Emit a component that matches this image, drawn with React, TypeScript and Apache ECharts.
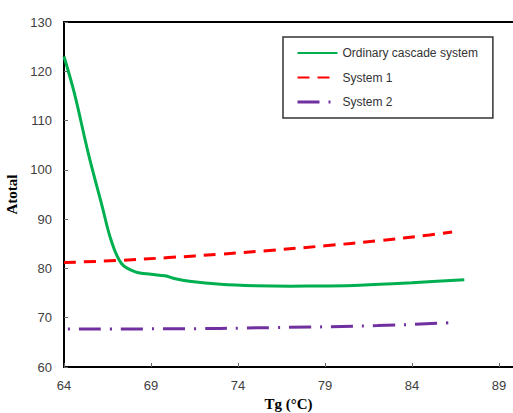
import React, { useEffect, useRef } from "react";
import * as echarts from "echarts";

const ordinaryX = [64, 64.6, 65.4, 66.2, 66.7, 67.3, 68.1, 69.0, 69.8, 70.4, 71.2, 73, 75, 77, 79, 81, 84, 87];
const ordinaryY = [123, 115.5, 103.3, 92.5, 85.8, 81.0, 79.3, 78.8, 78.5, 77.9, 77.4, 76.8, 76.5, 76.4, 76.45, 76.6, 77.1, 77.7];
const system1X = [64, 67, 70, 73, 76, 79, 82, 85, 86.3];
const system1Y = [81.2, 81.6, 82.2, 82.9, 83.7, 84.6, 85.6, 86.8, 87.4];
const system2X = [64, 70, 76, 82, 86.3];
const system2Y = [67.7, 67.75, 68.0, 68.4, 69.0];
const seriesNames = ["Ordinary cascade system", "System 1", "System 2"];

const pairs = (xs: number[], ys: number[]) => xs.map((x, i) => [x, ys[i]]);

export default function App() {
  const ref = useRef<HTMLDivElement>(null);
  useEffect(() => {
    if (!ref.current) return;
    const chart = echarts.init(ref.current, null, { renderer: "svg" });
    const labelStyle = { color: "#404040", fontSize: 13, fontFamily: "Liberation Sans" };
    const nameStyle = { color: "#000", fontSize: 15, fontWeight: "bold", fontFamily: "Liberation Serif" };
    chart.setOption({
      animation: false,
      backgroundColor: "#fff",
      grid: { left: 64, top: 22, right: 0, bottom: 46, outerBoundsMode: "none", containLabel: false },
      legend: {
        orient: "vertical",
        left: 283,
        top: 37,
        padding: [10, 15, 10, 13],
        itemWidth: 40,
        itemHeight: 14,
        itemGap: 12.5,
        borderColor: "#333",
        borderWidth: 1.5,
        itemStyle: { opacity: 0 },
        textStyle: { color: "#333", fontSize: 12, fontFamily: "Liberation Sans" },
        data: [
          { name: seriesNames[0] },
          { name: seriesNames[1] },
          { name: seriesNames[2], lineStyle: { color: "#7030a0", width: 3, type: [22, 9, 2, 9], dashOffset: 0 } },
        ],
      },
      xAxis: [
        {
          type: "value",
          min: 64,
          max: 89.8,
          interval: 5,
          position: "bottom",
          name: "Tg (°C)",
          nameLocation: "middle",
          nameGap: 29,
          nameTextStyle: nameStyle,
          axisLine: { show: true, lineStyle: { color: "#000", width: 2 } },
          axisTick: { show: true, inside: true, length: 4, lineStyle: { color: "#666" } },
          axisLabel: {
            ...labelStyle,
            margin: 12,
            formatter: (v: number) => (Number.isInteger(v) ? String(v) : ""),
          },
          splitLine: { show: false },
        },
        {
          type: "value",
          min: 64,
          max: 89.8,
          position: "top",
          axisLine: { show: true, lineStyle: { color: "#000", width: 2 } },
          axisTick: { show: false },
          axisLabel: { show: false },
          splitLine: { show: false },
        },
      ],
      yAxis: {
        type: "value",
        min: 60,
        max: 130,
        interval: 10,
        name: "Atotal",
        nameLocation: "middle",
        nameGap: 33,
        nameTextStyle: nameStyle,
        axisLine: { show: true, lineStyle: { color: "#000", width: 2 } },
        axisTick: { show: true, inside: true, length: 4, lineStyle: { color: "#666" } },
        axisLabel: { ...labelStyle, margin: 12 },
        splitLine: { show: false },
      },
      series: [
        {
          name: seriesNames[0],
          type: "line",
          data: pairs(ordinaryX, ordinaryY),
          smooth: 0.35,
          symbol: "none",
          lineStyle: { color: "#00b050", width: 3 },
          itemStyle: { color: "#00b050" },
        },
        {
          name: seriesNames[1],
          type: "line",
          data: pairs(system1X, system1Y),
          smooth: true,
          symbol: "none",
          lineStyle: { color: "#ff0000", width: 3, type: [12, 8] },
          itemStyle: { color: "#ff0000" },
        },
        {
          name: seriesNames[2],
          type: "line",
          data: pairs(system2X, system2Y),
          smooth: true,
          symbol: "none",
          lineStyle: { color: "#7030a0", width: 3, type: [22, 9, 2, 9], dashOffset: 27 },
          itemStyle: { color: "#7030a0" },
        },
      ],
    });
    return () => chart.dispose();
  }, []);
  return (
    <div
      ref={ref}
      style={{ position: "fixed", left: 0, top: 0, width: 513, height: 413 }}
    />
  );
}
